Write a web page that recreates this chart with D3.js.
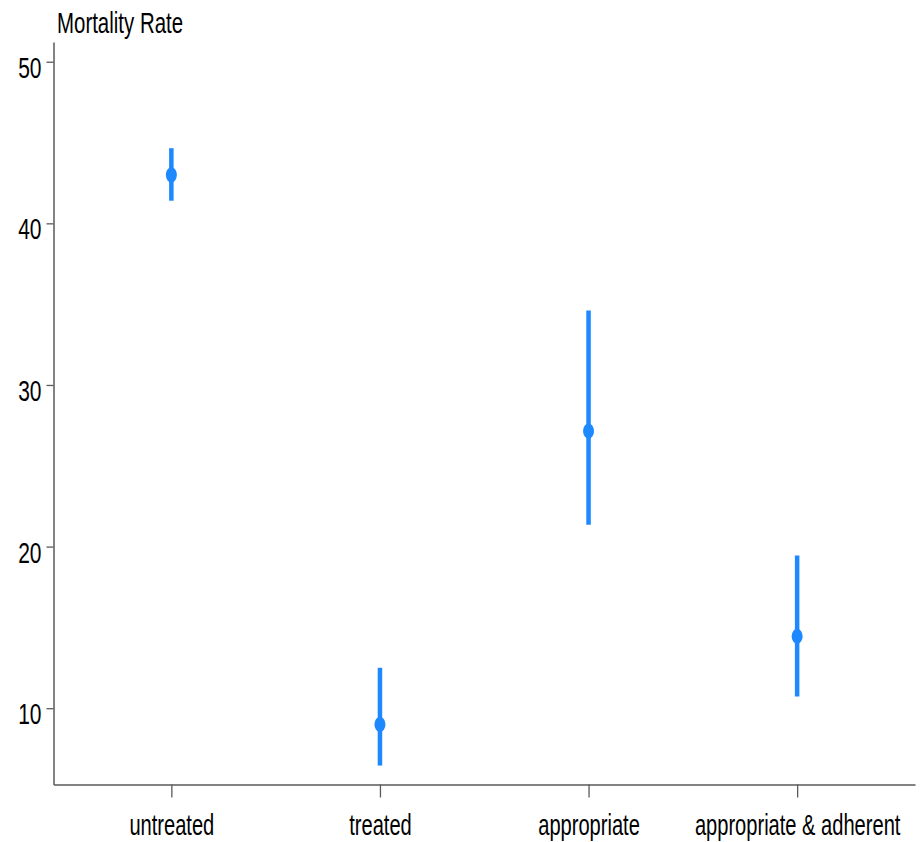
<!DOCTYPE html>
<html>
<head>
<meta charset="utf-8">
<script src="https://cdn.jsdelivr.net/npm/d3@7"></script>
<style>
  body { margin: 0; background: #fff; }
  text { font-family: "Liberation Sans", Arial, sans-serif; fill: #000; }
</style>
</head>
<body>
<div id="chart"></div>
<script>
const groups = ['untreated', 'treated', 'appropriate', 'appropriate & adherent']
const rates = [43.0, 9.0, 27.15, 14.45]
const lower = [41.4, 6.45, 21.35, 10.72]
const upper = [44.65, 12.5, 34.6, 19.45]
const yTicks = [10, 20, 30, 40, 50]

const width = 922, height = 842
const plotLeft = 53.5, plotRight = 915, plotTop = 42, plotBottom = 784.5
const blue = '#1e88ff'
const axisColor = '#5a5a5a'

// fake a condensed face by squeezing the text sideways
function narrow(sel, k) {
  sel.each(function() {
    const t = d3.select(this)
    const x0 = +t.attr('x') || 0
    t.attr('x', x0 / k).attr('transform', `scale(${k},1)`)
  })
}

const svg = d3.select('#chart').append('svg')
              .attr('width', width)
              .attr('height', height)

const x = d3.scalePoint()
            .domain(groups)
            .range([plotLeft, plotRight])
            .padding(0.565)
const y = d3.scaleLinear()
            .domain([5.28, 51.22])
            .range([plotBottom, plotTop])

// y axis
const yAxis = svg.append('g')
                 .attr('transform', `translate(${plotLeft},0)`)
                 .call(d3.axisLeft(y).tickValues(yTicks).tickSize(7).tickPadding(5).tickSizeOuter(0))
yAxis.select('.domain').attr('stroke', axisColor).attr('stroke-width', 1.5)
yAxis.selectAll('.tick line').attr('stroke', axisColor).attr('stroke-width', 1.3)
yAxis.selectAll('.tick text')
     .attr('font-size', 30).attr('font-family', null).attr('fill', '#000')
     .attr('dy', 15.5)
     .call(narrow, 0.7)

// x axis
const xAxis = svg.append('g')
                 .attr('transform', `translate(0,${plotBottom})`)
                 .call(d3.axisBottom(x).tickSize(13).tickSizeOuter(0))
xAxis.select('.domain').attr('stroke', axisColor).attr('stroke-width', 1.5)
xAxis.selectAll('.tick line').attr('stroke', axisColor).attr('stroke-width', 1.3)
xAxis.selectAll('.tick text')
     .attr('font-size', 30).attr('font-family', null).attr('fill', '#000')
     .attr('y', 50.5).attr('dy', 0)
     .call(narrow, 0.67)

svg.append('text')
   .attr('x', 57)
   .attr('y', 33)
   .attr('font-size', 29)
   .text('Mortality Rate')
   .call(narrow, 0.705)

// intervals
svg.selectAll('line.ci')
   .data(groups)
   .join('line')
   .attr('class', 'ci')
   .attr('x1', d => x(d))
   .attr('x2', d => x(d))
   .attr('y1', (d, i) => y(lower[i]))
   .attr('y2', (d, i) => y(upper[i]))
   .attr('stroke', blue)
   .attr('stroke-width', 4.5)

svg.selectAll('ellipse.pt')
   .data(groups)
   .join('ellipse')
   .attr('class', 'pt')
   .attr('cx', d => x(d))
   .attr('cy', (d, i) => y(rates[i]))
   .attr('rx', 5.5)
   .attr('ry', 7.5)
   .attr('fill', blue)
</script>
</body>
</html>
